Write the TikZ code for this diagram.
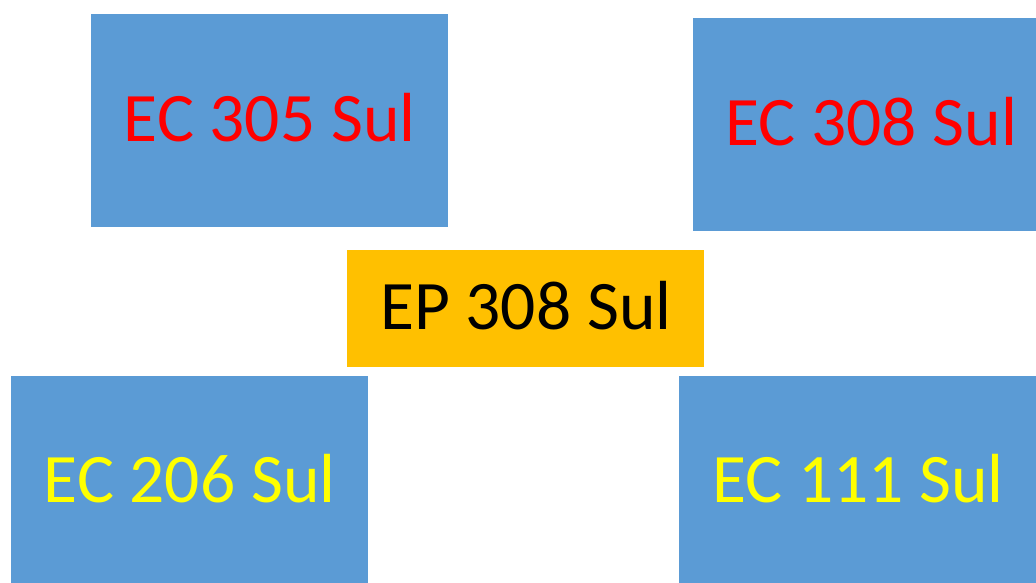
\documentclass[tikz,border=0pt]{standalone}
\usepackage{fontspec}
\setmainfont{Carlito}
\definecolor{boxblue}{HTML}{5B9BD5}
\definecolor{hubgold}{HTML}{FFC000}
\definecolor{labelred}{HTML}{FF0000}
\definecolor{labelyellow}{HTML}{FFFF00}
\begin{document}
\begin{tikzpicture}[x=1pt,y=-1pt,
  stationbox/.style={fill=boxblue, draw=none, inner sep=0pt, anchor=north west,
    minimum width=357.3pt, minimum height=213.3pt},
  hubbox/.style={fill=hubgold, draw=none, inner sep=0pt, anchor=north west,
    minimum width=356.6pt, minimum height=116.6pt},
  lbl/.style={inner sep=0pt, anchor=base, font=\fontsize{69.5}{80}\selectfont}]
\useasboundingbox (0,0) rectangle (1036,582);
\path[clip] (0,0) rectangle (1036,582);
\fill[white] (0,0) rectangle (1036,582);

% station boxes
\node[stationbox] (b305) at (90.4,13.4) {};
\node[stationbox] (b308) at (692.4,17.4) {};
\node[hubbox]     (hub)  at (346.7,250.0) {};
\node[stationbox] (b206) at (10.4,375.7) {};
\node[stationbox] (b111) at (678.4,375.7) {};

% labels
\node[lbl, text=labelred]    (t305) at (269.7,141.0) {EC 305 Sul};
\node[lbl, text=labelred]    (t308) at (871.5,145.0) {EC 308 Sul};
\node[lbl, text=black]       (thub) at (525.8,329.3) {EP 308 Sul};
\node[lbl, text=labelyellow] (t206) at (189.7,502.5) {EC 206 Sul};
\node[lbl, text=labelyellow] (t111) at (858.0,502.0) {EC 111 Sul};
\end{tikzpicture}
\end{document}
